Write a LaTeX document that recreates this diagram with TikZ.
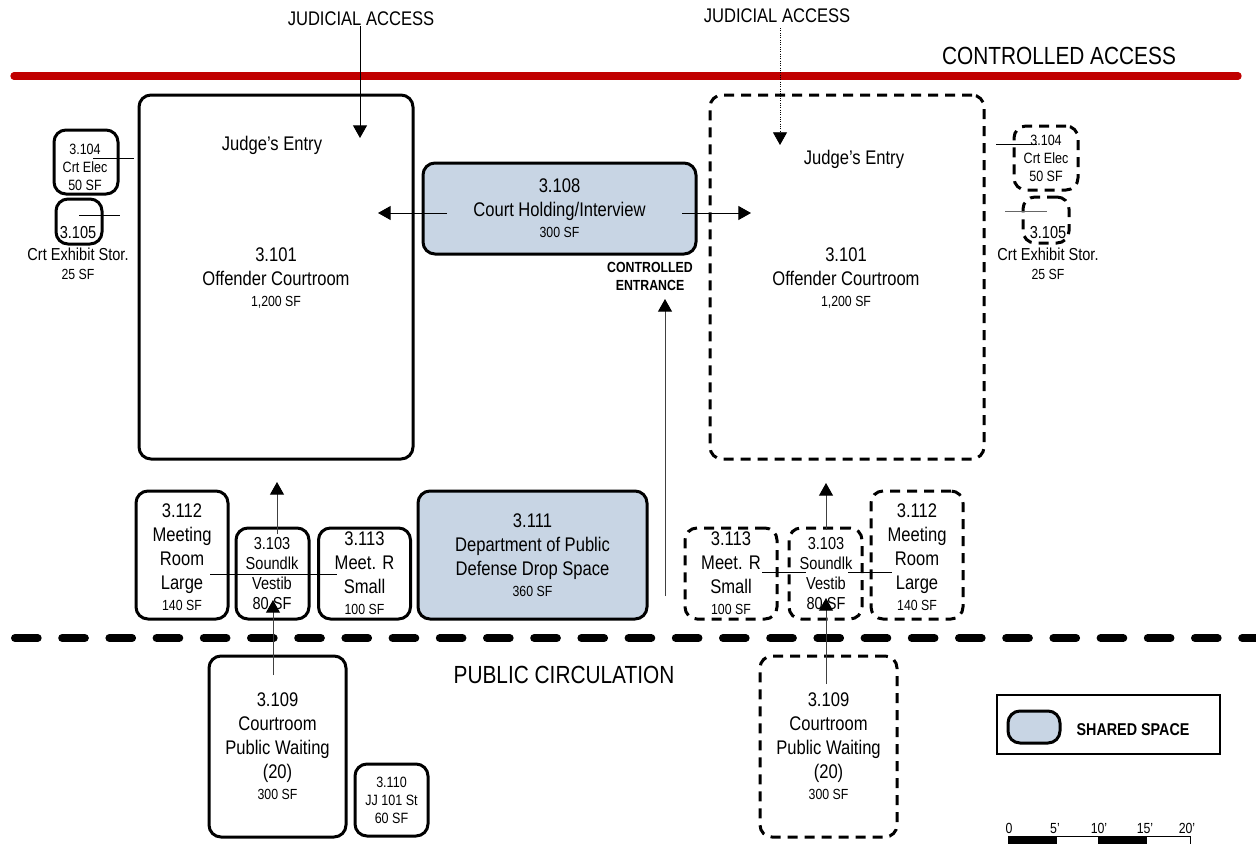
\documentclass[tikz,border=0pt]{standalone}
\usepackage{fontspec}
\setmainfont{Liberation Sans}[FakeStretch=0.84]
\usepackage{xcolor}
\usetikzlibrary{arrows.meta, positioning}

\definecolor{sharedblue}{HTML}{C8D5E4}
\definecolor{accessred}{HTML}{C00000}

\newcommand{\area}[1]{\\[-2.25pt]{\fontsize{11}{12}\selectfont #1}}

\tikzset{
  dims/.style 2 args={minimum width=#1*0.75pt, minimum height=#2*0.75pt},
  room/.style={draw, line width=2.25pt, rounded corners=9pt, align=center, inner sep=0pt,
    font=\fontsize{14.8}{18}\selectfont},
  newroom/.style={room, dash pattern=on 7.5pt off 5.25pt},
  tinyroom/.style={font=\fontsize{11.2}{13.5}\selectfont},
  txt/.style={align=center, inner sep=0pt, font=\fontsize{14.8}{18}\selectfont},
  vesttxt/.style={txt, font=\fontsize{13}{15}\selectfont},
  stortxt/.style={txt, font=\fontsize{13}{16.5}\selectfont},
  headtxt/.style={inner sep=0pt, font=\fontsize{18.6}{20}\selectfont},
  link/.style={line width=0.75pt, -{Triangle[length=9.5pt,width=10.5pt,color=black,fill=black]}},
  tie/.style={line width=0.75pt},
}

\begin{document}
\begin{tikzpicture}[x=0.75pt, y=-0.75pt]
\useasboundingbox (0,0) rectangle (1256,843);

% Circulation lines
\coordinate (ctrlA) at (14,76);
\coordinate (ctrlB) at (1238,76);
\coordinate (pubA) at (15,638);
\coordinate (pubB) at (1256,638);
\draw[accessred, line width=5.5pt, line cap=round] (ctrlA) -- (ctrlB);
\draw[line width=6pt, line cap=round, dash pattern=on 17pt off 18.4pt] (pubA) -- (pubB);
\node[headtxt] (ctrlLabel) at (1059,56) {CONTROLLED ACCESS};
\node[headtxt] (pubLabel) at (564,675) {PUBLIC CIRCULATION};
\node[txt] (accessL) at (361,19) {JUDICIAL ACCESS};
\node[txt] (accessR) at (777,16) {JUDICIAL ACCESS};

% Courtrooms
\node[room, dims={274}{364}] (courtL) at (276,277) {};
\node[txt] (entryL) at (272,145) {Judge's Entry};
\node[txt] (nameL) at (276,278) {3.101\\Offender Courtroom\area{1,200 SF}};
\node[newroom, dims={274}{364}] (courtR) at (847,277) {};
\node[txt] (entryR) at (854,159) {Judge's Entry};
\node[txt] (nameR) at (846,278) {3.101\\Offender Courtroom\area{1,200 SF}};

% Shared spaces
\node[room, fill=sharedblue, dims={273}{91}] (hold) at (559.5,208.5) {3.108\\Court Holding/Interview\area{300 SF}};
\node[align=center, inner sep=0pt, font=\fontsize{11}{13.5}\selectfont\bfseries] (entrance) at (650,276) {CONTROLLED\\ENTRANCE};
\node[room, fill=sharedblue, dims={229}{128}] (drop) at (532.5,555) {3.111\\Department of Public\\Defense Drop Space\area{360 SF}};

% Left suite
\node[room, dims={64}{64}] (elecL) at (86,162) {};
\node[txt, tinyroom] (elecTxtL) at (85,167) {3.104\\Crt Elec\\50 SF};
\node[room, dims={46}{45}] (storL) at (79,221.5) {};
\node[stortxt] (storTxtL) at (78,253) {3.105\\Crt Exhibit Stor.\\[-2pt]{\fontsize{11}{12}\selectfont 25 SF}};
\node[room, dims={92}{128}] (meetBigL) at (182,555) {};
\node[txt] (meetBigTxtL) at (182,557) {3.112\\Meeting\\Room\\Large\area{140 SF}};
\node[room, dims={73}{91}] (vestL) at (272.5,573.5) {};
\node[vesttxt] (vestTxtL) at (272,574) {3.103\\Soundlk\\Vestib\\80 SF};
\node[room, dims={92}{91}] (meetSmL) at (364.5,573.5) {3.113\\Meet. R\\Small\area{100 SF}};
\node[room, dims={137}{181}] (waitL) at (277.5,746.5) {3.109\\Courtroom\\Public Waiting\\(20)\area{300 SF}};
\node[room, tinyroom, dims={73}{72}] (stair) at (391.5,800) {3.110\\JJ 101 St\\60 SF};

% Right suite
\node[newroom, tinyroom, dims={64}{64}] (elecR) at (1046,158) {3.104\\Crt Elec\\50 SF};
\node[newroom, dims={46}{46}] (storR) at (1046,220) {};
\node[stortxt] (storTxtR) at (1048,253) {3.105\\Crt Exhibit Stor.\\[-2pt]{\fontsize{11}{12}\selectfont 25 SF}};
\node[newroom, dims={92}{91}] (meetSmR) at (731,573.5) {3.113\\Meet. R\\Small\area{100 SF}};
\node[newroom, dims={73}{91}] (vestR) at (825.5,573.5) {};
\node[vesttxt] (vestTxtR) at (826,574) {3.103\\Soundlk\\Vestib\\80 SF};
\node[newroom, dims={92}{128}] (meetBigR) at (917,555) {};
\node[txt] (meetBigTxtR) at (917,557) {3.112\\Meeting\\Room\\Large\area{140 SF}};
\node[newroom, dims={137}{181}] (waitR) at (828.5,746.5) {3.109\\Courtroom\\Public Waiting\\(20)\area{300 SF}};

% Connector ends
\coordinate (accessEndL) at (360,138);
\coordinate (accessStartR) at (780,28);
\coordinate (accessEndR) at (780,145);
\coordinate (holdStartL) at (447,213);
\coordinate (holdEndL) at (378,213);
\coordinate (holdStartR) at (682,213);
\coordinate (holdEndR) at (751,213);
\coordinate (entranceStart) at (665,596);
\coordinate (entranceEnd) at (665,299);
\coordinate (vestStartL) at (277,534);
\coordinate (vestEndL) at (277,482);
\coordinate (waitStartL) at (273,675);
\coordinate (waitEndL) at (273,600);
\coordinate (vestStartR) at (826,530);
\coordinate (vestEndR) at (826,483);
\coordinate (waitStartR) at (826,684);
\coordinate (waitEndR) at (826,598);
\coordinate (tieLa) at (93,158);
\coordinate (tieLb) at (134,158);
\coordinate (tieLc) at (79,215);
\coordinate (tieLd) at (120,215);
\coordinate (tieLe) at (210,574);
\coordinate (tieLf) at (337,574);
\coordinate (tieRa) at (996,144);
\coordinate (tieRb) at (1037,144);
\coordinate (tieRc) at (1005,211);
\coordinate (tieRd) at (1047,211);
\coordinate (tieRe) at (762,572);
\coordinate (tieRf) at (806,572);
\coordinate (tieRg) at (848,572);
\coordinate (tieRh) at (892,572);

% Connectors
\draw[link] (accessL.south -| accessEndL) -- (accessEndL);
\draw[link, densely dotted, line width=0.6pt] (accessStartR) -- (accessEndR);
\draw[link] (holdStartL) -- (holdEndL);
\draw[link] (holdStartR) -- (holdEndR);
\draw[link, black!75] (entranceStart) -- (entranceEnd);
\draw[link, black!75] (vestStartL) -- (vestEndL);
\draw[link, black!75] (waitStartL) -- (waitEndL);
\draw[link, black!75] (vestStartR) -- (vestEndR);
\draw[link, black!75] (waitStartR) -- (waitEndR);
\draw[tie] (tieLa) -- (tieLb);
\draw[tie] (tieLc) -- (tieLd);
\draw[tie] (tieLe) -- (tieLf);
\draw[tie] (tieRa) -- (tieRb);
\draw[tie, black!60] (tieRc) -- (tieRd);
\draw[tie] (tieRe) -- (tieRf);
\draw[tie] (tieRg) -- (tieRh);

% Legend
\node[draw, line width=1.1pt, dims={223}{59}] (legend) at (1108.5,724.5) {};
\node[room, fill=sharedblue, dims={52}{32}] (swatch) at (1034,727) {};
\node[inner sep=0pt, font=\fontsize{12.8}{14}\selectfont\bfseries] (legendTxt) at (1133,730) {SHARED SPACE};

% Scale bar
\foreach \xa/\xb/\barfill in {1008/1056/black, 1056/1098/white, 1098/1146/black, 1146/1190/white}
  \draw[line width=0.75pt, fill=\barfill] (\xa,836) rectangle (\xb,848);
\foreach \xa/\lab/\labname in {1009/0/a, 1055/5'/b, 1099/10'/c, 1145/15'/d, 1187/20'/e}
  \node[anchor=base, inner sep=0pt, font=\fontsize{11}{12}\selectfont] (scale\labname) at (\xa,833) {\lab};
\end{tikzpicture}
\end{document}
